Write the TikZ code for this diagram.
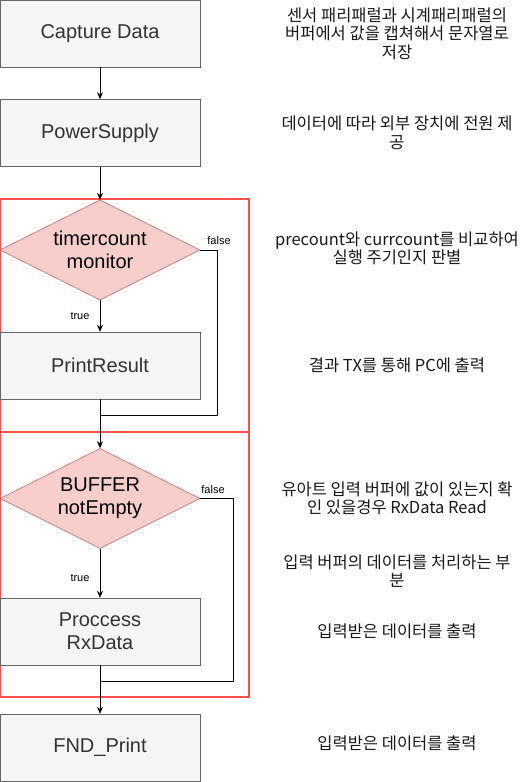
\documentclass[tikz,border=0pt]{standalone}
\usepackage{fontspec}
\setmainfont{Liberation Sans}
\newfontfamily\krfont{Noto Sans CJK KR}
\usepackage{tikz}
\usetikzlibrary{shapes.geometric, arrows.meta, positioning}
\definecolor{boxfill}{HTML}{F5F5F5}
\definecolor{boxline}{HTML}{666666}
\definecolor{boxtext}{HTML}{333333}
\definecolor{decfill}{HTML}{F8CECC}
\definecolor{decline}{HTML}{B85450}
\definecolor{framered}{RGB}{255, 80, 80}

\tikzset{
  procbox/.style={draw=boxline, fill=boxfill, text=boxtext, minimum width=200pt, minimum height=67pt, inner sep=0pt, align=center, font=\fontsize{20}{23}\selectfont},
  decision/.style={diamond, draw=decline, fill=decfill, minimum width=200pt, minimum height=100pt, inner sep=0pt},
  dectext/.style={align=center, font=\fontsize{20}{23}\selectfont},
  note/.style={align=center, font=\krfont\fontsize{16.5}{18.5}\selectfont, text=black!90},
  branch/.style={font=\fontsize{11}{13}\selectfont},
  flow/.style={line width=1pt, -{Stealth[length=7pt, width=6pt]}},
  link/.style={line width=1pt},
  group/.style={draw=framered, line width=1.2pt}
}

\begin{document}
\begin{tikzpicture}[x=1pt, y=-1pt]
  \useasboundingbox (0,0) rectangle (521,782);

  % Groups
  \draw[group] (0.6,199) rectangle (249,432);
  \draw[group] (0.6,432) rectangle (249,697);

  % Flow steps
  \node[procbox] (capture) at (100,33.5) {Capture Data};
  \node[procbox] (power) at (100,133) {PowerSupply};
  \node[decision] (timer) at (100,250) {};
  \node[dectext] (timertext) at (timer.center) {timercount\\monitor};
  \node[procbox] (print) at (100,365.5) {PrintResult};
  \node[decision] (buffer) at (100,498.5) {};
  \node[dectext] (buffertext) at (buffer.center) {BUFFER\\notEmpty};
  \node[procbox] (rxdata) at (100,631.5) {Proccess\\RxData};
  \node[procbox] (fnd) at (100,747.5) {FND\_Print};

  \coordinate (join1) at (100,415);
  \coordinate (join2) at (100,681);

  % Connectors
  \draw[flow] (capture) -- (power);
  \draw[flow] (power) -- (timer);
  \draw[flow] (timer) -- (print);
  \draw[link] (timer.east) -- ++(17,0) |- (join1);
  \draw[flow] (print) -- (buffer);
  \draw[flow] (buffer) -- (rxdata);
  \draw[link] (buffer.east) -- ++(33,0) |- (join2);
  \draw[flow] (rxdata) -- (fnd);

  % Branch labels
  \node[branch] (t1true) at (80,316) {true};
  \node[branch] (t1false) at (219,241) {false};
  \node[branch] (b1true) at (80,578) {true};
  \node[branch] (b1false) at (213,490) {false};

  % Notes
  \node[note] (capnote) at (397,33.5) {센서 패리패럴과 시계패리패럴의\\버퍼에서 값을 캡쳐해서 문자열로\\저장};
  \node[note] (pownote) at (397,133) {데이터에 따라 외부 장치에 전원 제\\공};
  \node[note] (timnote) at (397,248.5) {precount와 currcount를 비교하여\\실행 주기인지 판별};
  \node[note] (prnnote) at (397,365) {결과 TX를 통해 PC에 출력};
  \node[note] (bufnote) at (397,498.5) {유아트 입력 버퍼에 값이 있는지 확\\인 있을경우 RxData Read};
  \node[note] (rxnote) at (397,571) {입력 버퍼의 데이터를 처리하는 부\\분};
  \node[note] (outnote) at (397,631) {입력받은 데이터를 출력};
  \node[note] (fndnote) at (397,743.5) {입력받은 데이터를 출력};
\end{tikzpicture}
\end{document}
